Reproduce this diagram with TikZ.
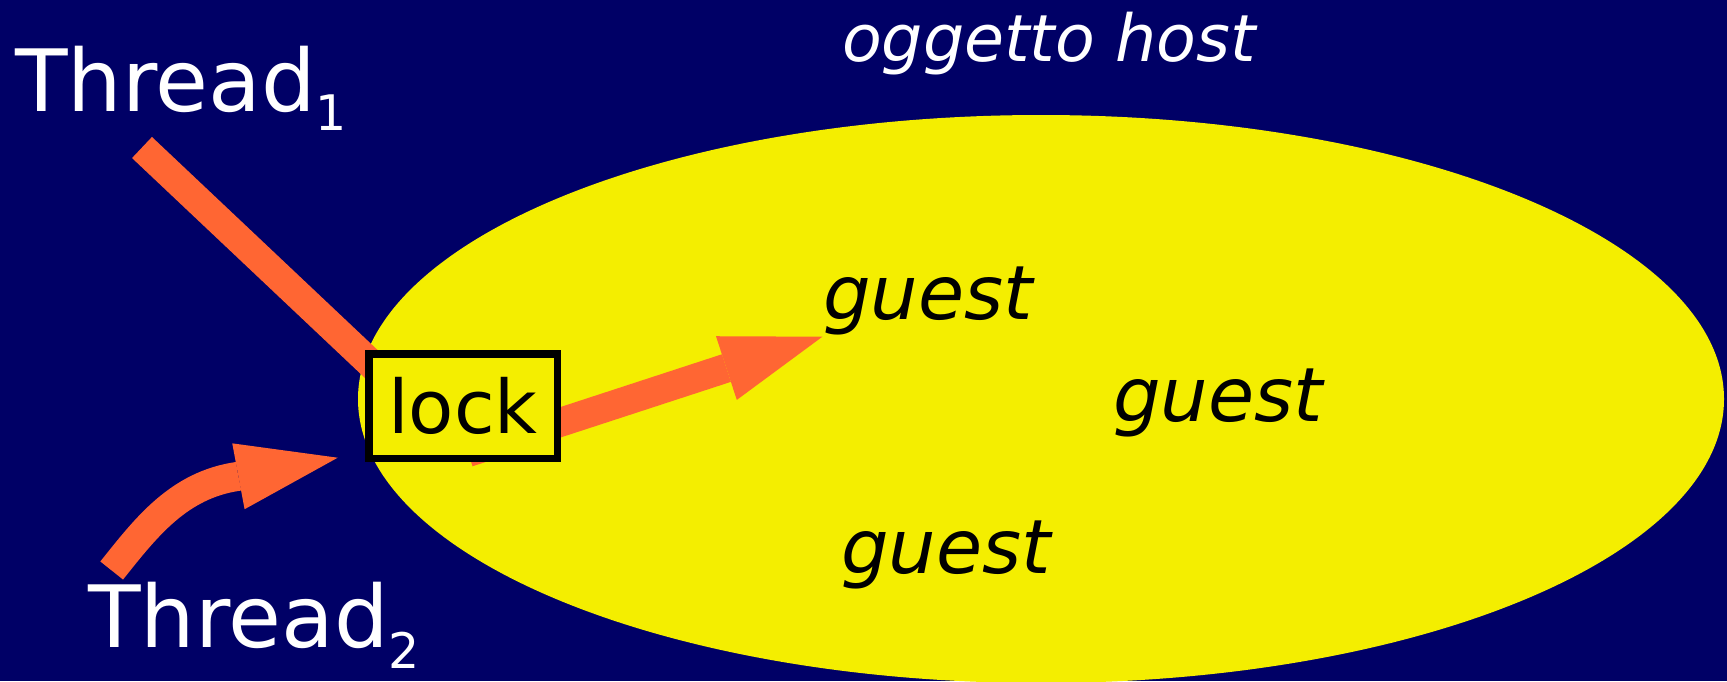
\documentclass[tikz,border=0pt]{standalone}
\usepackage{fontspec}
\setmainfont{DejaVu Sans}
\usetikzlibrary{arrows.meta}
\definecolor{navy}{RGB}{0,0,102}
\definecolor{hostyellow}{RGB}{244,238,0}
\definecolor{thrdorange}{RGB}{255,102,51}
\pgfdeclarelayer{back}
\pgfdeclarelayer{mid}
\pgfsetlayers{back,mid,main}
\begin{document}
\begin{tikzpicture}[x=1pt,y=-1pt,
  flow/.style={draw=thrdorange, line width=29pt},
  head/.style={-{Triangle[length=101pt,width=67pt,line width=0pt]}},
  lbl/.style={text=white, inner sep=0pt, anchor=base west, font=\fontsize{86}{90}\selectfont},
  gst/.style={inner sep=0pt, anchor=base, font=\fontsize{75}{80}\selectfont\itshape},
  lockbox/.style={draw=black, line width=7.5pt, fill=hostyellow, minimum width=188.5pt, minimum height=104.5pt, inner sep=0pt, font=\fontsize{74}{80}\selectfont}]
\useasboundingbox (0,0) rectangle (1727,681);
\begin{pgfonlayer}{back}
\fill[navy] (0,0) rectangle (1727,681);
\fill[hostyellow] (1041,399) ellipse [x radius=683pt, y radius=284pt];
\end{pgfonlayer}
% texts and the lock box
\node[lbl] (thread1) at (15,111) {Thread\lower19pt\hbox{\fontsize{49}{50}\selectfont 1}};
\node[lbl] (thread2) at (88,647) {Thread\lower21pt\hbox{\fontsize{49}{50}\selectfont 2}};
\node[text=white, inner sep=0pt, anchor=base, font=\fontsize{65}{70}\selectfont\itshape] (host) at (1049,61) {oggetto host};
\node[gst] (g1) at (928,319) {guest};
\node[gst] (g2) at (1218,421) {guest};
\node[gst] (g3) at (946,573) {guest};
\node[lockbox] (lock) at (463,406) {lock};
% connector end points
\coordinate (t1from) at (142,147.5);
\coordinate (t1to) at (420,410);
\coordinate (t2from) at (111.7,570.5);
\coordinate (t2bend) at (238.3,476.3);
\coordinate (t2tip) at (337.7,457.7);
\coordinate (lockout) at (468,452.5);
\coordinate (guesttip) at (822.4,336.7);
\begin{pgfonlayer}{mid}
\draw[flow] (t1from) -- (t1to);
\draw[flow, head] (t2from) .. controls (146,527.5) and (178.6,484.8) .. (t2bend) -- (t2tip);
\draw[flow, head] (lockout) -- (guesttip);
\end{pgfonlayer}
\end{tikzpicture}
\end{document}
